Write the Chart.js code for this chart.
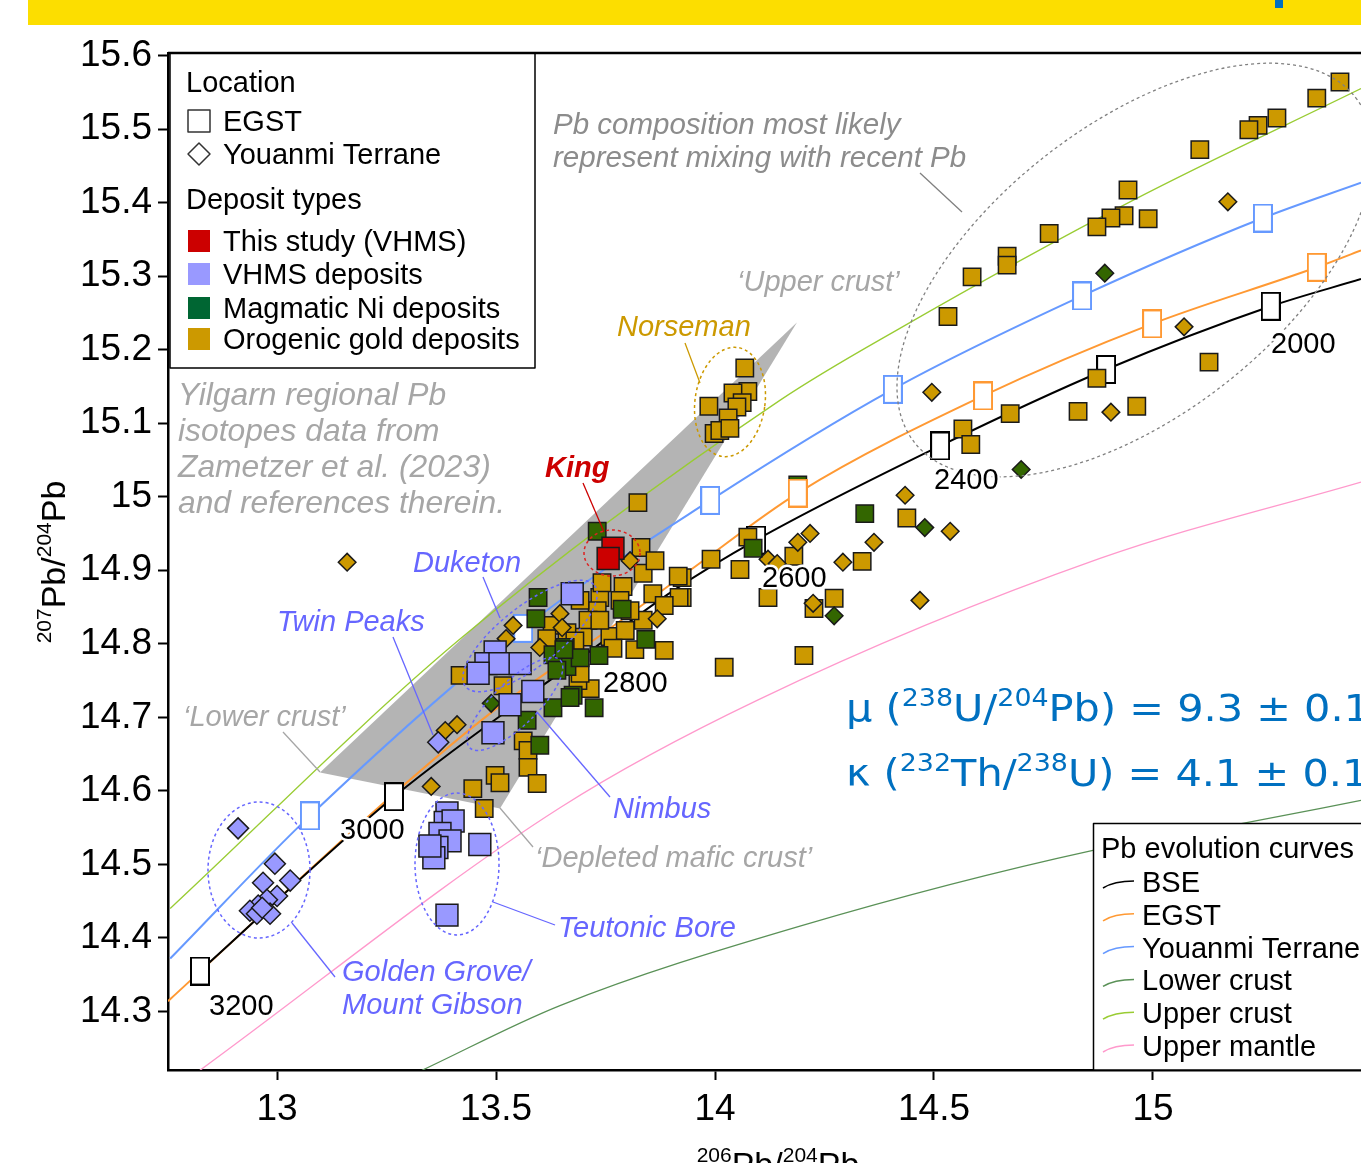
<!DOCTYPE html>
<html>
<head>
<meta charset="utf-8">
<script src="https://cdn.jsdelivr.net/npm/chart.js@4.4.0/dist/chart.umd.min.js"></script>
<style>
html, body { margin: 0; padding: 0; background: #fff; overflow: hidden; }
#wrap { position: relative; width: 1361px; height: 1163px; }
#c { position: absolute; left: 0; top: 0; }
#bar { position: absolute; left: 28px; top: 0; width: 1333px; height: 25px; background: #FCDE00; }
#tab { position: absolute; left: 1275px; top: 0; width: 8px; height: 8px; background: #0070C0; }
</style>
</head>
<body>
<div id="wrap">
  <canvas id="c" width="1361" height="1163"></canvas>
  <div id="bar"></div><div id="tab"></div>
</div>
<script>
// axes
const xTicks = [13, 13.5, 14, 14.5, 15];
const xTickLabels = ['13', '13.5', '14', '14.5', '15'];
const yTicks = [14.3, 14.4, 14.5, 14.6, 14.7, 14.8, 14.9, 15.0, 15.1, 15.2, 15.3, 15.4, 15.5, 15.6];
const yTickLabels = ['14.3', '14.4', '14.5', '14.6', '14.7', '14.8', '14.9', '15', '15.1', '15.2', '15.3', '15.4', '15.5', '15.6'];

// Pb evolution curves (206Pb/204Pb, 207Pb/204Pb)
const bseCurve = [[12.824,14.355],[13.267,14.592],[13.710,14.788],[13.904,14.872],[14.094,14.941],[14.514,15.069],[14.893,15.173],[15.269,15.259],[15.475,15.296]];
const egstCurve = [[12.751,14.314],[13.267,14.596],[13.486,14.705],[13.737,14.811],[13.943,14.900],[14.189,15.005],[14.612,15.137],[14.998,15.235],[15.374,15.312],[15.475,15.335]];
const youanmiCurve = [[12.756,14.372],[13.075,14.566],[13.562,14.821],[13.989,14.995],[14.406,15.146],[14.838,15.273],[15.251,15.379],[15.475,15.427]];
const lowerCrustCurve = [[13.331,14.220],[13.646,14.308],[14.194,14.416],[14.863,14.519],[15.199,14.555],[15.475,14.587]];
const upperCrustCurve = [[12.756,14.440],[13.413,14.804],[14.148,15.131],[14.422,15.229],[14.954,15.403],[15.475,15.555]];
const upperMantleCurve = [[12.824,14.220],[13.646,14.577],[14.096,14.723],[14.879,14.916],[15.475,15.020]];

// age ticks on the curves (Ma)
const bseAges = [3200, 3000, 2600, 2400, 2200, 2000];
const bseMarkers = [[12.824,14.355],[13.267,14.592],[14.094,14.941],[14.514,15.069],[14.893,15.173],[15.269,15.259]];
const egstAges = [2600, 2400, 2200, 2000];
const egstMarkers = [[14.189,15.005],[14.612,15.137],[14.998,15.235],[15.374,15.312]];
const youanmiAges = [3000, 2800, 2600, 2400, 2200, 2000];
const youanmiMarkers = [[13.075,14.566],[13.562,14.821],[13.989,14.995],[14.406,15.146],[14.838,15.273],[15.251,15.379]];

// crustal reservoir field (grey)
const crustField = [[13.098,14.625],[14.187,15.237],[13.509,14.576],[13.098,14.625]];

// samples
const goldSquares = [
  [15.427,15.564],[15.374,15.542],[15.283,15.515],[15.240,15.505],[15.219,15.499],[15.107,15.472],[14.943,15.417],[14.934,15.382],
  [14.904,15.379],[14.872,15.367],[14.989,15.378],[14.763,15.358],[14.667,15.327],[14.667,15.315],[14.587,15.299],[14.532,15.245],
  [15.128,15.183],[14.872,15.161],[14.829,15.116],[14.963,15.123],[14.674,15.113],[14.566,15.092],[14.584,15.071],
  [14.438,14.971],[14.336,14.912],[14.180,14.919],[14.057,14.901],[13.991,14.915],[14.075,14.945],[14.121,14.863],[14.272,14.862],
  [14.226,14.848],[14.203,14.784],[14.021,14.768],[13.925,14.890],[13.925,14.863],
  [14.068,15.175],[14.075,15.143],[14.041,15.141],[14.062,15.128],[14.050,15.122],[13.986,15.123],[14.030,15.107],[13.998,15.086],
  [14.011,15.090],[14.034,15.093],
  [13.824,14.992],[13.831,14.931],[13.836,14.896],[13.790,14.878],[13.858,14.868],[13.916,14.892],[13.918,14.863],[13.884,14.852],
  [13.836,14.832],[13.817,14.792],[13.884,14.791],[13.737,14.863],[13.731,14.845],[13.710,14.832],[13.699,14.809],[13.760,14.810],
  [13.795,14.818],[13.767,14.794],[13.628,14.825],[13.616,14.807],[13.662,14.815],[13.680,14.804],[13.715,14.739],[13.687,14.750],
  [13.742,14.883],[13.692,14.859],[13.418,14.757],[13.516,14.743],[13.562,14.668],[13.573,14.655],[13.573,14.632],[13.692,14.760],
  [13.498,14.621],[13.509,14.611],[13.447,14.603],[13.594,14.610],[13.473,14.576],[13.783,14.859],[13.863,14.913],[13.646,14.777],
  [13.737,14.832],[13.806,14.845]
];
const goldDiamonds = [
  [15.171,15.401],[15.071,15.231],[14.495,15.142],[14.904,15.115],[14.434,15.002],
  [14.537,14.953],[14.363,14.938],[14.292,14.911],[14.217,14.950],[14.189,14.938],[14.121,14.915],[14.142,14.909],[14.468,14.859],
  [14.224,14.855],[13.806,14.913],[13.539,14.825],[13.646,14.841],[13.651,14.822],[13.868,14.834],[13.600,14.795],[13.523,14.807],
  [13.411,14.690],[13.384,14.682],[13.352,14.606],[13.160,14.911]
];
const greenSquares = [
  [14.342,14.977],[14.087,14.930],
  [13.731,14.953],[13.596,14.863],[13.591,14.834],[13.788,14.847],[13.842,14.806],[13.735,14.784],[13.662,14.769],[13.658,14.795],
  [13.692,14.781],[13.676,14.730],[13.724,14.713],[13.630,14.713],[13.630,14.785],[13.655,14.792],[13.639,14.764],[13.669,14.727],
  [13.600,14.662],[13.571,14.696]
];
// one Ni sample sits underneath the EGST 2600 Ma tick
const greenSquaresHidden = [[14.189,15.016]];
const greenDiamonds = [[14.890,15.304],[14.699,15.037],[14.479,14.958],[14.272,14.838],[13.489,14.719]];
const vhmsSquares = [
  [13.674,14.868],[13.498,14.789],[13.477,14.773],[13.509,14.773],[13.555,14.773],[13.459,14.760],[13.584,14.735],[13.532,14.717],
  [13.493,14.679],
  [13.388,14.570],[13.384,14.557],[13.402,14.559],[13.372,14.542],[13.395,14.532],[13.365,14.523],[13.358,14.509],[13.349,14.525],
  [13.463,14.527],[13.388,14.431]
];
const vhmsDiamonds = [
  [13.368,14.666],[12.911,14.549],[12.995,14.501],[13.030,14.478],[12.968,14.475],[13.000,14.457],[12.977,14.452],[12.957,14.444],
  [12.938,14.437],[12.954,14.433],[12.984,14.433],[12.966,14.441]
];
const kingSquares = [[13.767,14.930],[13.756,14.916]];

const GOLD = '#CC9900', GREEN = '#336600', LAV = '#9999FF', RED = '#CC0000';
const SANS = '"Liberation Sans", Arial, sans-serif';

const pts = a => a.map(p => ({ x: p[0], y: p[1] }));

function curve(data, color, width, order) {
  return { data: pts(data), showLine: true, borderColor: color, borderWidth: width, pointRadius: 0,
    cubicInterpolationMode: 'monotone', fill: false, order };
}
function boxImg(color) {
  const c = document.createElement('canvas');
  c.width = 20; c.height = 29;
  const g = c.getContext('2d');
  g.fillStyle = '#fff'; g.fillRect(1, 1, 18, 27);
  g.strokeStyle = color; g.lineWidth = 2; g.strokeRect(1, 1, 18, 27);
  return c;
}
function ageMarks(data, color, order) {
  return { data: pts(data), pointStyle: boxImg(color), pointRadius: 10, showLine: false, order };
}
function samples(data, style, r, color, order) {
  return { data: pts(data), pointStyle: style, pointRadius: r, backgroundColor: color,
    borderColor: '#1a1a1a', borderWidth: 1.5, showLine: false, order };
}

// text with superscripts
function rich(ctx, parts, x, y, o) {
  const fnt = sup => `${o.style || ''} ${sup ? o.sup : o.size}px ${o.family}`;
  const ws = parts.map(p => { ctx.font = fnt(p[1]); return ctx.measureText(p[0]).width; });
  const w = ws.reduce((a, b) => a + b, 0);
  let cx = o.align === 'center' ? x - w / 2 : x;
  ctx.fillStyle = o.color || '#000';
  ctx.textAlign = 'left';
  ctx.textBaseline = 'alphabetic';
  parts.forEach((p, i) => {
    ctx.font = fnt(p[1]);
    ctx.fillText(p[0], cx, p[1] ? y - o.rise : y);
    cx += ws[i];
  });
}
function txt(ctx, s, x, y, font, color, halo) {
  ctx.font = font; ctx.textAlign = 'left'; ctx.textBaseline = 'alphabetic';
  if (halo) { ctx.strokeStyle = '#fff'; ctx.lineWidth = 5; ctx.lineJoin = 'round'; ctx.strokeText(s, x, y); }
  ctx.fillStyle = color; ctx.fillText(s, x, y);
}
function seg(ctx, x1, y1, x2, y2, color, w) {
  ctx.beginPath(); ctx.moveTo(x1, y1); ctx.lineTo(x2, y2);
  ctx.strokeStyle = color; ctx.lineWidth = w || 1.3; ctx.setLineDash([]); ctx.stroke();
}
function ell(ctx, cx, cy, rx, ry, rotDeg, color, w) {
  ctx.beginPath(); ctx.ellipse(cx, cy, rx, ry, rotDeg * Math.PI / 180, 0, Math.PI * 2);
  ctx.strokeStyle = color; ctx.lineWidth = w || 1.5; ctx.setLineDash([3, 3]); ctx.stroke(); ctx.setLineDash([]);
}

const overlay = {
  id: 'overlay',
  afterDatasetsDraw(chart) {
    const ctx = chart.ctx;
    ctx.save();
    // dashed groupings
    ell(ctx, 1135, 270, 280, 145, -38, '#808080', 1.3);
    ell(ctx, 730, 402, 35, 55, 8, GOLD, 1.5);
    ell(ctx, 612, 553, 28, 23, 0, '#DD2222', 1.5);
    ell(ctx, 530, 636, 82, 30, -38, '#6666FF', 1.5);
    ell(ctx, 515, 704, 63, 22, -44, '#6666FF', 1.5);
    ell(ctx, 259, 870, 51, 68, 0, '#6666FF', 1.5);
    ell(ctx, 457, 864, 42, 71, 0, '#6666FF', 1.5);
    // leader lines
    seg(ctx, 920, 173, 962, 212, '#808080');
    seg(ctx, 685, 343, 700, 383, GOLD);
    seg(ctx, 583, 483, 604, 532, RED);
    seg(ctx, 483, 577, 500, 618, '#6666FF');
    seg(ctx, 393, 637, 433, 735, '#6666FF');
    seg(ctx, 537, 712, 610, 797, '#6666FF');
    seg(ctx, 493, 902, 555, 925, '#6666FF');
    seg(ctx, 292, 923, 335, 977, '#6666FF');
    seg(ctx, 283, 732, 320, 772, '#A6A6A6');
    seg(ctx, 500, 808, 533, 847, '#A6A6A6');
    ctx.restore();
  },
  afterDraw(chart) {
    const ctx = chart.ctx;
    const a = chart.chartArea;
    ctx.save();
    // top frame
    seg(ctx, a.left, a.top, a.right, a.top, '#000', 2.5);

    // annotations
    const it = s => `italic ${s}px ${SANS}`;
    txt(ctx, 'Pb composition most likely', 553, 134, it(29.5), '#8C8C8C');
    txt(ctx, 'represent mixing with recent Pb', 553, 167, it(29.5), '#8C8C8C');
    txt(ctx, '\u2018Upper crust\u2019', 737, 291, it(29), '#A6A6A6');
    txt(ctx, 'Norseman', 617, 336, it(29), GOLD);
    ['Yilgarn regional Pb', 'isotopes data from', 'Zametzer et al. (2023)', 'and references therein.']
      .forEach((s, i) => txt(ctx, s, 178, 405 + i * 36, it(31.8), '#A6A6A6'));
    txt(ctx, 'King', 545, 477, `italic bold 29px ${SANS}`, RED);
    txt(ctx, 'Duketon', 413, 572, it(29), '#6666FF');
    txt(ctx, 'Twin Peaks', 277, 631, it(29), '#6666FF');
    txt(ctx, '\u2018Lower crust\u2019', 183, 726, it(29), '#A6A6A6');
    txt(ctx, 'Nimbus', 613, 818, it(29), '#6666FF');
    txt(ctx, '\u2018Depleted mafic crust\u2019', 535, 867, it(29), '#A6A6A6');
    txt(ctx, 'Teutonic Bore', 558, 937, it(29), '#6666FF');
    txt(ctx, 'Golden Grove/', 342, 981, it(29), '#6666FF');
    txt(ctx, 'Mount Gibson', 342, 1014, it(29), '#6666FF');

    const ageFont = `29px ${SANS}`;
    txt(ctx, '3200', 209, 1015, ageFont, '#000', true);
    txt(ctx, '3000', 340, 839, ageFont, '#000', true);
    txt(ctx, '2800', 603, 692, ageFont, '#000', true);
    txt(ctx, '2600', 762, 587, ageFont, '#000', true);
    txt(ctx, '2400', 934, 489, ageFont, '#000', true);
    txt(ctx, '2000', 1271, 353, ageFont, '#000', true);

    // mu / kappa (slightly stretched horizontally like the original)
    const mu = { size: 37, sup: 24, rise: 15, family: '"DejaVu Sans", Verdana, sans-serif', color: '#0070C0' };
    ctx.save();
    ctx.translate(846, 0); ctx.scale(1.12, 1);
    rich(ctx, [['\u03BC ('], ['238', 1], ['U/'], ['204', 1], ['Pb) = 9.3 \u00B1 0.1']], 0, 721, mu);
    rich(ctx, [['\u03BA ('], ['232', 1], ['Th/'], ['238', 1], ['U) = 4.1 \u00B1 0.1']], 0, 786, mu);
    ctx.restore();

    // axis titles
    const ttl = { size: 34, sup: 21, rise: 14, family: SANS, color: '#000', align: 'center' };
    rich(ctx, [['206', 1], ['Pb/'], ['204', 1], ['Pb']], 778, 1176, ttl);
    ctx.save();
    ctx.translate(65, 562); ctx.rotate(-Math.PI / 2);
    rich(ctx, [['207', 1], ['Pb/'], ['204', 1], ['Pb']], 0, 0, ttl);
    ctx.restore();

    // legend: location / deposit types
    ctx.fillStyle = '#fff'; ctx.fillRect(170, 53, 365, 315);
    ctx.strokeStyle = '#000'; ctx.lineWidth = 1.5; ctx.strokeRect(170, 53.5, 365, 314.5);
    const lf = `29px ${SANS}`;
    txt(ctx, 'Location', 186, 92, lf, '#000');
    ctx.strokeStyle = '#333'; ctx.lineWidth = 1.5; ctx.strokeRect(188, 110, 22, 22);
    txt(ctx, 'EGST', 223, 131, lf, '#000');
    ctx.beginPath(); ctx.moveTo(199, 143); ctx.lineTo(210, 154); ctx.lineTo(199, 165); ctx.lineTo(188, 154); ctx.closePath();
    ctx.stroke();
    txt(ctx, 'Youanmi Terrane', 223, 164, lf, '#000');
    txt(ctx, 'Deposit types', 186, 209, lf, '#000');
    [[RED, 'This study (VHMS)', 241], [LAV, 'VHMS deposits', 274], ['#006633', 'Magmatic Ni deposits', 308], [GOLD, 'Orogenic gold deposits', 339]]
      .forEach(r => { ctx.fillStyle = r[0]; ctx.fillRect(188, r[2] - 11, 22, 22); txt(ctx, r[1], 223, r[2] + 10, lf, '#000'); });

    // legend: evolution curves
    ctx.fillStyle = '#fff'; ctx.fillRect(1093, 823, 270, 247);
    ctx.strokeStyle = '#000'; ctx.lineWidth = 1.5; ctx.strokeRect(1093.5, 823.5, 275, 246.5);
    txt(ctx, 'Pb evolution curves', 1101, 858, lf, '#000');
    [['#000', 'BSE'], ['#FF9933', 'EGST'], ['#6699FF', 'Youanmi Terrane'], ['#5A9157', 'Lower crust'], ['#99CC33', 'Upper crust'], ['#FF99CC', 'Upper mantle']]
      .forEach((r, i) => {
        const b = 892 + i * 32.8;
        ctx.beginPath(); ctx.moveTo(1103, b - 4); ctx.quadraticCurveTo(1114, b - 11, 1134, b - 11);
        ctx.strokeStyle = r[0]; ctx.lineWidth = 1.5; ctx.stroke();
        txt(ctx, r[1], 1142, b, lf, '#000');
      });
    ctx.restore();
  }
};

new Chart(document.getElementById('c'), {
  type: 'scatter',
  data: {
    datasets: [
      { data: pts(crustField), showLine: true, borderWidth: 0, borderColor: 'rgba(0,0,0,0)', pointRadius: 0,
        backgroundColor: '#B4B4B4', fill: 'shape', tension: 0, order: 100 },
      curve(lowerCrustCurve, '#5A9157', 1.3, 95),
      curve(upperMantleCurve, '#FF99CC', 1.3, 94),
      curve(upperCrustCurve, '#99CC33', 1.3, 93),
      curve(youanmiCurve, '#6699FF', 2, 92),
      curve(egstCurve, '#FF9933', 2, 91),
      curve(bseCurve, '#000000', 2, 90),
      samples(greenSquaresHidden, 'rect', 12.3, GREEN, 88),
      ageMarks(egstMarkers, '#FF9933', 85),
      ageMarks(youanmiMarkers, '#6699FF', 84),
      ageMarks(bseMarkers, '#000000', 83),
      samples(goldSquares, 'rect', 12.3, GOLD, 60),
      samples(goldDiamonds, 'rectRot', 8.8, GOLD, 55),
      samples(greenSquares, 'rect', 12.3, GREEN, 50),
      samples(greenDiamonds, 'rectRot', 8.8, GREEN, 45),
      samples(vhmsDiamonds, 'rectRot', 10.5, LAV, 42),
      samples(vhmsSquares, 'rect', 15.5, LAV, 40),
      samples(kingSquares, 'rect', 15.5, RED, 30)
    ]
  },
  options: {
    responsive: false,
    animation: false,
    events: [],
    layout: { autoPadding: false, padding: { top: 53, right: 0, left: 0, bottom: 0 } },
    plugins: { legend: { display: false }, tooltip: { enabled: false } },
    scales: {
      x: {
        type: 'linear', min: 12.751, max: 15.475,
        afterBuildTicks: s => { s.ticks = xTicks.map(v => ({ value: v })); },
        afterFit: s => { s.height = 93; },
        ticks: { font: { family: SANS, size: 37 }, color: '#000', padding: 8,
          callback: (v, i) => xTickLabels[i] },
        grid: { drawOnChartArea: false, drawTicks: true, tickLength: 10, tickColor: '#000', tickWidth: 2 },
        border: { color: '#000', width: 2.5 }
      },
      y: {
        type: 'linear', min: 14.2204, max: 15.6034,
        afterBuildTicks: s => { s.ticks = yTicks.map(v => ({ value: v })); },
        afterFit: s => { s.width = 168; },
        ticks: { font: { family: SANS, size: 37 }, color: '#000', padding: 6,
          callback: (v, i) => yTickLabels[i] },
        grid: { drawOnChartArea: false, drawTicks: true, tickLength: 10, tickColor: '#000', tickWidth: 2 },
        border: { color: '#000', width: 2.5 }
      }
    }
  },
  plugins: [overlay]
});
</script>
</body>
</html>
